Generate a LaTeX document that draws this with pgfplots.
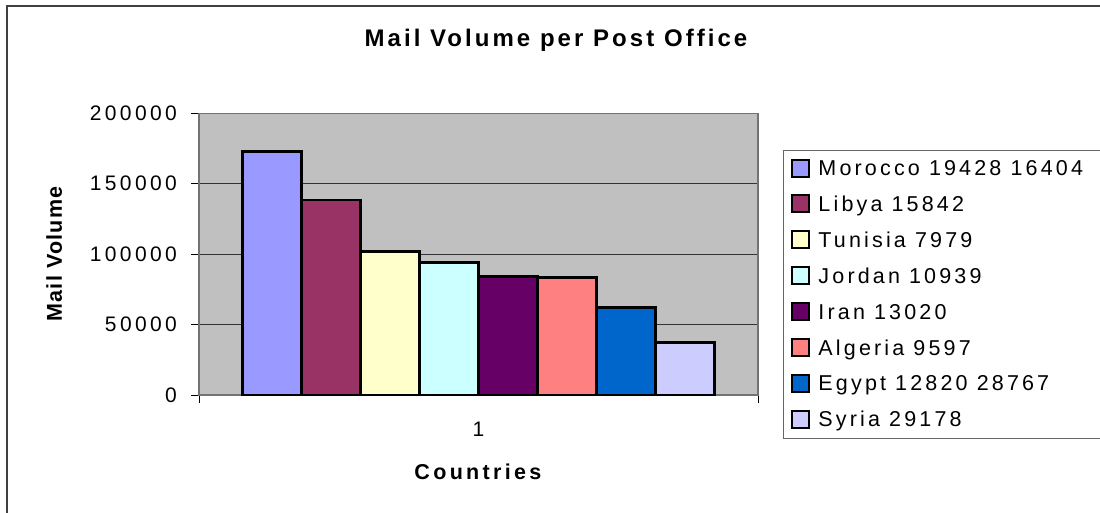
\documentclass[border=0pt]{standalone}
\usepackage{pgfplots}
\pgfplotsset{compat=1.18}
\usepackage{fontspec}
\setmainfont{Liberation Sans}
\newfontfamily\titlefont[LetterSpace=12.7]{Liberation Sans}
\newfontfamily\tickfont[LetterSpace=16]{Liberation Sans}
\newfontfamily\legfont[LetterSpace=14.7]{Liberation Sans}
\newfontfamily\xlabfont[LetterSpace=15.5]{Liberation Sans}
\newfontfamily\ylabfont[LetterSpace=5.8]{Liberation Sans}
\definecolor{cMor}{HTML}{9999FF}
\definecolor{cLib}{HTML}{993366}
\definecolor{cTun}{HTML}{FFFFCC}
\definecolor{cJor}{HTML}{CCFFFF}
\definecolor{cIra}{HTML}{660066}
\definecolor{cAlg}{HTML}{FF8080}
\definecolor{cEgy}{HTML}{0066CC}
\definecolor{cSyr}{HTML}{CCCCFF}
\definecolor{plotbg}{HTML}{C0C0C0}
\begin{document}
\begin{tikzpicture}[x=1pt,y=1pt]
\useasboundingbox (0,0) rectangle (1100,512);
\clip (0,0) rectangle (1100,512);
\draw[black!75, line width=1.5pt] (7,-5) -- (7,506) -- (1105,506);
\begin{axis}[
  at={(199pt,117pt)}, anchor=south west,
  width=559pt, height=281.7pt, scale only axis,
  xmin=0, xmax=1, ymin=0, ymax=200000,
  ybar=0pt, bar width=59pt,
  axis background/.style={fill=plotbg},
  axis line style={black!55, line width=1.5pt},
  tick pos=left, tick align=outside, major tick length=8pt,
  tick style={black, line width=1pt},
  xtick={0,1}, xticklabels={,},
  extra x ticks={0.5}, extra x tick labels={1},
  extra x tick style={major tick length=0pt},
  ytick={0,50000,100000,150000,200000},
  scaled y ticks=false,
  /pgf/number format/fixed, /pgf/number format/1000 sep={},
  /pgf/number format/assume math mode=true,
  ticklabel style={font=\tickfont\fontsize{21}{25}\selectfont},
  yticklabel style={inner sep=0pt, anchor=east, xshift=-14pt},
  xticklabel style={inner sep=0pt, anchor=north, yshift=-27pt},
  ymajorgrids, major grid style={black!80, line width=1pt},
  every axis title/.style={at={(0.6386,1.2364)}, anchor=base, font=\titlefont\bfseries\fontsize{24}{28}\selectfont},
  title={Mail Volume per Post Office},
  every axis x label/.style={at={(0.499,-0.2993)}, anchor=base, font=\xlabfont\bfseries\fontsize{21.5}{26}\selectfont},
  every axis y label/.style={at={(-0.2451,0.5005)}, anchor=base, rotate=90, font=\ylabfont\bfseries\fontsize{21.5}{26}\selectfont},
  xlabel={Countries}, ylabel={Mail Volume},
  legend image code/.code={\draw[#1, draw=black, line width=2pt] (0pt,-1pt) rectangle (17pt,16pt);},
  legend cell align=left,
  legend style={at={(1.0447,0.8697)}, anchor=north west, draw=black!60, line width=1pt, fill=white,
    inner xsep=8pt, inner ysep=8pt, row sep=14.9pt,
    font=\legfont\fontsize{21.5}{25}\selectfont,
    nodes={inner sep=0pt, text height=17pt, text depth=4pt, anchor=base west},
    /tikz/every odd column/.append style={column sep=8pt}},
]
\addplot[fill=cMor, draw=black, line width=2.5pt] coordinates {(0.5,173000)};
\addlegendentry{Morocco 19428 16404\phantom{00}}
\addplot[fill=cLib, draw=black, line width=2.5pt] coordinates {(0.5,138400)};
\addlegendentry{Libya 15842}
\addplot[fill=cTun, draw=black, line width=2.5pt] coordinates {(0.5,101800)};
\addlegendentry{Tunisia 7979}
\addplot[fill=cJor, draw=black, line width=2.5pt] coordinates {(0.5,94000)};
\addlegendentry{Jordan 10939}
\addplot[fill=cIra, draw=black, line width=2.5pt] coordinates {(0.5,84200)};
\addlegendentry{Iran 13020}
\addplot[fill=cAlg, draw=black, line width=2.5pt] coordinates {(0.5,83300)};
\addlegendentry{Algeria 9597}
\addplot[fill=cEgy, draw=black, line width=2.5pt] coordinates {(0.5,62300)};
\addlegendentry{Egypt 12820 28767}
\addplot[fill=cSyr, draw=black, line width=2.5pt] coordinates {(0.5,37400)};
\addlegendentry{Syria 29178}
\end{axis}
\end{tikzpicture}
\end{document}
